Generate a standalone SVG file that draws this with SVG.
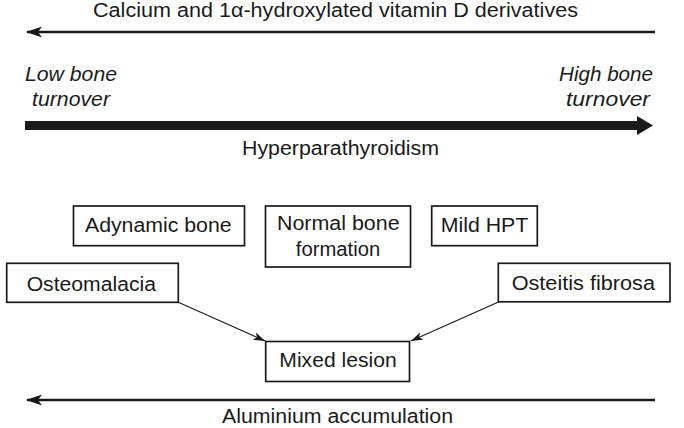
<svg xmlns="http://www.w3.org/2000/svg" width="684" height="428" viewBox="0 0 684 428">
<style>
  text { font-family: "Liberation Sans", Arial, Helvetica, sans-serif; font-size: 19.5px; fill: #1a1a1a; }
  .it { font-style: italic; }
  .box { fill: #ffffff; stroke: #1a1a1a; stroke-width: 1.7; }
  .thin { stroke: #1a1a1a; stroke-width: 2.6; fill: none; }
  .conn { stroke: #1a1a1a; stroke-width: 1.1; fill: none; }
</style>
<defs>
  <marker id="bigHead" viewBox="0 0 16 12" refX="15" refY="6" markerWidth="16" markerHeight="12" markerUnits="userSpaceOnUse" orient="auto">
    <path d="M0,0.5 L16,6 L0,11.5 L4,6 Z" fill="#1a1a1a"/>
  </marker>
  <marker id="smallHead" viewBox="0 0 12 8" refX="12" refY="4" markerWidth="12" markerHeight="8" markerUnits="userSpaceOnUse" orient="auto">
    <path d="M0,0 L12,4 L0,8 L3,4 Z" fill="#1a1a1a"/>
  </marker>
</defs>
<rect x="0" y="0" width="684" height="428" fill="#ffffff"/>

<g id="calcium-arrow">
  <text x="335.5" y="17" text-anchor="middle" textLength="485" lengthAdjust="spacingAndGlyphs">Calcium and 1α-hydroxylated vitamin D derivatives</text>
  <line class="thin" x1="655" y1="32" x2="27" y2="32" marker-end="url(#bigHead)"/>
</g>

<g id="turnover-labels">
  <text class="it" x="71" y="80.7" text-anchor="middle" textLength="92" lengthAdjust="spacingAndGlyphs">Low bone</text>
  <text class="it" x="71" y="105.7" text-anchor="middle" textLength="78" lengthAdjust="spacingAndGlyphs">turnover</text>
  <text class="it" x="606" y="80.7" text-anchor="middle" textLength="94" lengthAdjust="spacingAndGlyphs">High bone</text>
  <text class="it" x="608" y="105.7" text-anchor="middle" textLength="84" lengthAdjust="spacingAndGlyphs">turnover</text>
</g>

<g id="hpt-arrow">
  <rect x="25" y="121" width="614" height="9" fill="#1a1a1a"/>
  <polygon points="637,116 653,125.5 637,135" fill="#1a1a1a"/>
  <text x="340.5" y="155" text-anchor="middle" textLength="197" lengthAdjust="spacingAndGlyphs">Hyperparathyroidism</text>
</g>

<g id="adynamic">
  <rect class="box" x="73.5" y="206" width="171" height="39.7"/>
  <text x="158.3" y="231.7" text-anchor="middle" textLength="146.7" lengthAdjust="spacingAndGlyphs">Adynamic bone</text>
</g>

<g id="normal">
  <rect class="box" x="265.5" y="206" width="145" height="61"/>
  <text x="338.3" y="230" text-anchor="middle" textLength="122.6" lengthAdjust="spacingAndGlyphs">Normal bone</text>
  <text x="338" y="256" text-anchor="middle" textLength="84.4" lengthAdjust="spacingAndGlyphs">formation</text>
</g>

<g id="mild-hpt">
  <rect class="box" x="431.7" y="206" width="105.6" height="39.7"/>
  <text x="484.5" y="232.3" text-anchor="middle" textLength="87.6" lengthAdjust="spacingAndGlyphs">Mild HPT</text>
</g>

<g id="osteomalacia">
  <rect class="box" x="6.7" y="263.3" width="171.6" height="39"/>
  <text x="91.3" y="291" text-anchor="middle" textLength="129.3" lengthAdjust="spacingAndGlyphs">Osteomalacia</text>
</g>

<g id="osteitis">
  <rect class="box" x="498.3" y="263.3" width="171.7" height="38.5"/>
  <text x="583.3" y="290" text-anchor="middle" textLength="143.3" lengthAdjust="spacingAndGlyphs">Osteitis fibrosa</text>
</g>

<g id="mixed">
  <rect class="box" x="265.7" y="341.5" width="143.8" height="40"/>
  <text x="338" y="366.7" text-anchor="middle" textLength="117.4" lengthAdjust="spacingAndGlyphs">Mixed lesion</text>
</g>

<g id="connectors">
  <line class="conn" x1="178.3" y1="302.3" x2="265.2" y2="341" marker-end="url(#smallHead)"/>
  <line class="conn" x1="498.5" y1="302" x2="410.8" y2="341" marker-end="url(#smallHead)"/>
</g>

<g id="aluminium-arrow">
  <line class="thin" x1="655" y1="400" x2="27" y2="400" marker-end="url(#bigHead)"/>
  <text x="337.5" y="423" text-anchor="middle" textLength="231" lengthAdjust="spacingAndGlyphs">Aluminium accumulation</text>
</g>
</svg>
